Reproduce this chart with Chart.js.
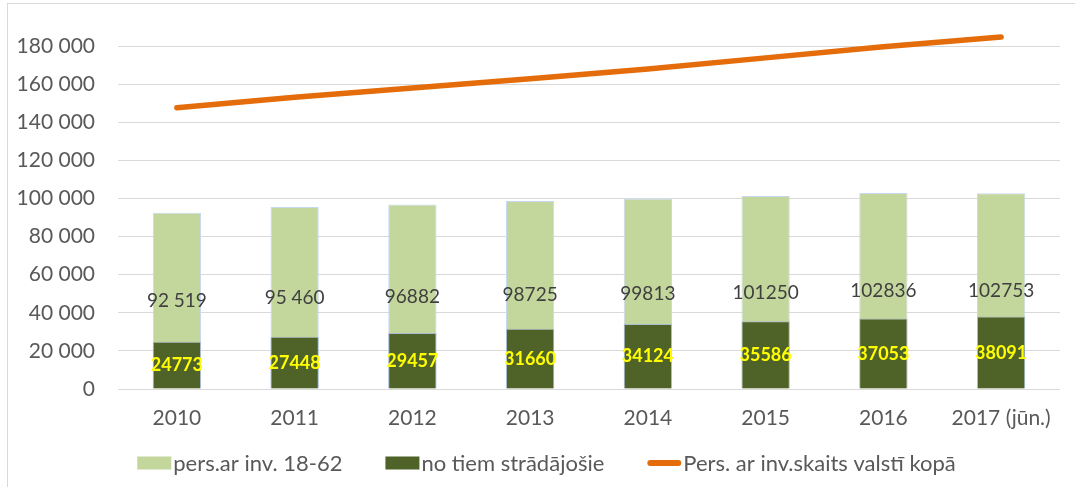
<!DOCTYPE html>
<html>
<head>
<meta charset="utf-8">
<script src="https://cdn.jsdelivr.net/npm/chart.js@4.4.0/dist/chart.umd.min.js"></script>
<style>
html, body { margin: 0; padding: 0; background: #fff; }
#wrap { position: relative; width: 1075px; height: 487px; overflow: hidden; }
#frame { position: absolute; left: 7px; top: 3px; width: 1100px; height: 520px; border: 1px solid #d9d9d9; }
#c { position: absolute; left: 0; top: 0; }
</style>
</head>
<body>
<div id="wrap">
  <div id="frame"></div>
  <canvas id="c" width="1075" height="487"></canvas>
</div>
<script>
// gadi
const years = ['2010', '2011', '2012', '2013', '2014', '2015', '2016', '2017 (jūn.)'];
// pers.ar inv. 18-62
const persAr = [92519, 95460, 96882, 98725, 99813, 101250, 102836, 102753];
const persArLabels = ['92 519', '95 460', '96882', '98725', '99813', '101250', '102836', '102753'];
// no tiem strādājošie
const stradajosie = [24773, 27448, 29457, 31660, 34124, 35586, 37053, 38091];
// kopā valstī (nolasīts no līnijas)
const kopa = [147600, 153100, 158000, 162800, 168000, 173800, 179600, 184800];
// y ass
const yTicks = [0, 20000, 40000, 60000, 80000, 100000, 120000, 140000, 160000, 180000];

const FONT = 'Lato';
const TXT = '#595959';

function fmt(v) {
  return String(v).replace(/\B(?=(\d{3})+(?!\d))/g, ' ');
}

// vērtību uzraksti stabiņu vidū
const barLabels = {
  id: 'barLabels',
  afterDatasetsDraw(chart) {
    const ctx = chart.ctx;
    const y = chart.scales.y;
    ctx.save();
    ctx.textAlign = 'center';
    ctx.textBaseline = 'middle';
    ctx.font = '19px ' + FONT;
    ctx.fillStyle = '#404040';
    chart.getDatasetMeta(0).data.forEach((bar, i) => {
      ctx.fillText(persArLabels[i], bar.x, y.getPixelForValue(persAr[i] / 2));
    });
    ctx.font = 'bold 18px ' + FONT;
    ctx.fillStyle = '#ffff00';
    chart.getDatasetMeta(1).data.forEach((bar, i) => {
      ctx.fillText(String(stradajosie[i]), bar.x, y.getPixelForValue(stradajosie[i] / 2));
    });
    ctx.restore();
  }
};

// leģenda apakšā
const bottomLegend = {
  id: 'bottomLegend',
  afterDraw(chart) {
    const ctx = chart.ctx;
    ctx.save();
    ctx.font = '22px ' + FONT;
    ctx.textBaseline = 'middle';
    const symW = 34, gapText = 2, gapItem = 43;
    const items = chart.data.datasets.map(ds => ({
      text: ds.label,
      type: ds.type,
      color: ds.type === 'line' ? ds.borderColor : ds.backgroundColor,
      w: symW + gapText + ctx.measureText(ds.label).width
    }));
    const total = items.reduce((a, it) => a + it.w, 0) + gapItem * (items.length - 1);
    let x = chart.width / 2 + 9 - total / 2;
    const y = chart.height - 24;
    items.forEach(it => {
      if (it.type === 'line') {
        ctx.strokeStyle = it.color;
        ctx.lineWidth = 6;
        ctx.lineCap = 'round';
        ctx.beginPath();
        ctx.moveTo(x + 3, y);
        ctx.lineTo(x + symW - 3, y);
        ctx.stroke();
      } else {
        ctx.fillStyle = it.color;
        ctx.fillRect(x, y - 6.5, symW, 13);
      }
      ctx.fillStyle = TXT;
      ctx.fillText(it.text, x + symW + gapText, y + 1);
      x += it.w + gapItem;
    });
    ctx.restore();
  }
};

new Chart(document.getElementById('c'), {
  data: {
    labels: years,
    datasets: [
      {
        type: 'bar',
        label: 'pers.ar inv. 18-62',
        data: persAr,
        backgroundColor: '#c3d69b',
        borderColor: '#c6d9f1',
        borderWidth: 1,
        grouped: false,
        barPercentage: 0.41,
        categoryPercentage: 1,
        order: 2
      },
      {
        type: 'bar',
        label: 'no tiem strādājošie',
        data: stradajosie,
        backgroundColor: '#4f6228',
        borderColor: '#a9bcd2',
        borderWidth: 1,
        grouped: false,
        barPercentage: 0.41,
        categoryPercentage: 1,
        order: 1
      },
      {
        type: 'line',
        label: 'Pers. ar inv.skaits valstī kopā',
        data: kopa,
        borderColor: '#e46c0a',
        borderWidth: 5.5,
        borderCapStyle: 'round',
        pointRadius: 0,
        tension: 0,
        order: 0
      }
    ]
  },
  options: {
    responsive: false,
    animation: false,
    layout: { padding: { top: 27, right: 15, bottom: 50, left: 0 } },
    plugins: {
      legend: { display: false },
      tooltip: { enabled: false }
    },
    scales: {
      x: {
        grid: { display: false },
        border: { display: false },
        ticks: { color: TXT, font: { family: FONT, size: 21 }, padding: 9, maxRotation: 0 },
        afterFit(s) { s.height = 48; s.paddingLeft = 0; s.paddingRight = 0; }
      },
      y: {
        min: 0,
        max: 190000,
        afterBuildTicks(s) { s.ticks = yTicks.map(v => ({ value: v })); },
        grid: { color: '#d9d9d9', lineWidth: 1, drawTicks: false },
        border: { display: false },
        ticks: { color: TXT, font: { family: FONT, size: 21 }, padding: 23, callback: v => fmt(v) },
        afterFit(s) { s.width = 118; s.paddingTop = 0; s.paddingBottom = 0; }
      }
    }
  },
  plugins: [barLabels, bottomLegend]
});
</script>
</body>
</html>
